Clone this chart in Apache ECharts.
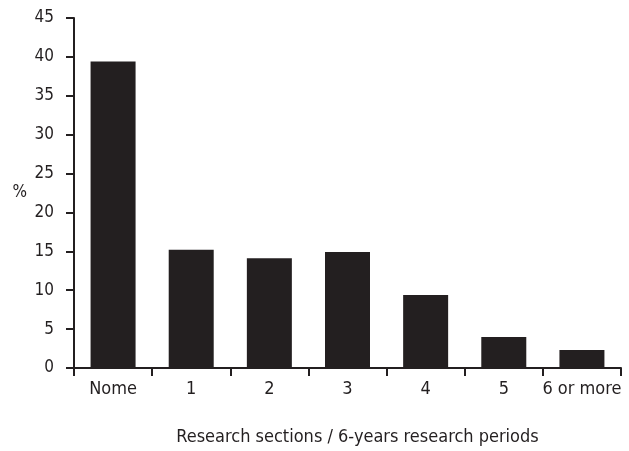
<!DOCTYPE html>
<html>
<head>
<meta charset="utf-8">
<script src="https://cdn.jsdelivr.net/npm/echarts@6/dist/echarts.min.js"></script>
<style>html,body{margin:0;padding:0;background:#fff}#c{width:629px;height:451px}</style>
</head>
<body>
<div id="c"></div>
<script>
var categories = ['Nome', '1', '2', '3', '4', '5', '6 or more'];
var values = [39.4, 15.2, 14.1, 14.9, 9.4, 4.0, 2.3];
var yTicks = [0, 5, 10, 15, 20, 25, 30, 35, 40, 45];

var ink = '#231f20';
var font = '"DejaVu Sans Condensed", "Liberation Sans", sans-serif';
var chart = echarts.init(document.getElementById('c'));
chart.setOption({
  animation: false,
  grid: {left: 74, right: 8, top: 18, bottom: 81},
  xAxis: {
    type: 'category',
    data: categories,
    name: 'Research sections / 6-years research periods',
    nameLocation: 'middle',
    nameGap: 60,
    nameTextStyle: {color: ink, fontSize: 18, fontFamily: font, padding: [0, 0, 0, 20]},
    axisLine: {lineStyle: {color: ink, width: 2}},
    axisTick: {show: true, interval: 0, length: 8, lineStyle: {color: ink, width: 2}},
    axisLabel: {color: ink, fontSize: 18, fontFamily: font, margin: 12, interval: 0}
  },
  yAxis: {
    type: 'value',
    min: yTicks[0],
    max: yTicks[yTicks.length - 1],
    interval: 5,
    name: '%',
    nameLocation: 'middle',
    nameRotate: 0,
    nameGap: 47,
    nameTextStyle: {color: ink, fontSize: 17, fontFamily: font, padding: [14, 0, 0, 0]},
    splitLine: {show: false},
    axisLine: {show: true, lineStyle: {color: ink, width: 2}},
    axisTick: {show: true, length: 8, lineStyle: {color: ink, width: 2}},
    axisLabel: {color: ink, fontSize: 17, fontFamily: font, margin: 20}
  },
  series: [{
    type: 'bar',
    data: values,
    barWidth: 45,
    itemStyle: {color: ink}
  }]
});
</script>
</body>
</html>
